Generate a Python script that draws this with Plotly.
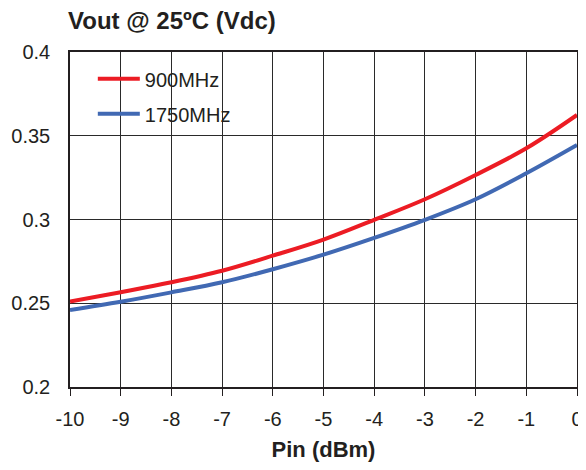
import plotly.graph_objects as go

pin_dbm = [-10, -9, -8, -7, -6, -5, -4, -3, -2, -1, 0]
vout_900 = [0.251, 0.2566, 0.2625, 0.2694, 0.2784, 0.2880, 0.2998, 0.3121, 0.3266, 0.3425, 0.3624]
vout_1750 = [0.246, 0.2509, 0.2565, 0.2625, 0.2703, 0.2790, 0.2890, 0.2998, 0.3121, 0.3276, 0.3445]
series_names = ["900MHz", "1750MHz"]
x_ticks = list(range(-10, 1))
x_tick_labels = [str(v) for v in x_ticks]
y_ticks = [0.2, 0.25, 0.3, 0.35, 0.4]
y_tick_labels = ["0.2", "0.25", "0.3", "0.35", "0.4"]

FONT = "Liberation Sans, Arial, sans-serif"
W, H = 578, 462  # page body has an 8px margin
fig = go.Figure()
fig.add_trace(go.Scatter(x=pin_dbm, y=vout_900, name=series_names[0], mode="lines",
                         line=dict(color="#ec1c24", width=4, shape="spline"),
                         legendgroup="a"))
fig.add_trace(go.Scatter(x=pin_dbm, y=vout_1750, name=series_names[1], mode="lines",
                         line=dict(color="#4169b3", width=4, shape="spline"),
                         legendgroup="b"))

fig.update_layout(
    width=W, height=H,
    margin=dict(l=62, r=9, t=44, b=83, autoexpand=False),
    paper_bgcolor="white", plot_bgcolor="white",
    font=dict(family=FONT, color="#231f20", size=20),
    title=dict(text="<b>Vout @ 25ºC (Vdc)</b>", x=60/W, xanchor="left",
               y=1 - 13/H, yanchor="middle", font=dict(size=24, color="#231f20")),
    showlegend=True,
    legend=dict(x=0.045, y=0.978, xanchor="left", yanchor="top",
                bgcolor="rgba(0,0,0,0)", borderwidth=0, itemwidth=42,
                font=dict(size=20, color="#231f20"), tracegroupgap=6),
)
fig.update_xaxes(range=[-10, 0], tickvals=x_ticks, ticktext=x_tick_labels,
                 ticks="outside", ticklen=7, automargin=False,
                 tickcolor="#231f20", tickwidth=1,
                 showgrid=True, gridcolor="#2a2a2a", gridwidth=1,
                 showline=True, linecolor="#231f20", linewidth=1.5, mirror=True,
                 zeroline=False, tickfont=dict(size=20),
                 ticklabelstandoff=6,
                 title=dict(text="<b>Pin (dBm)</b>", font=dict(size=22), standoff=13))
fig.update_yaxes(range=[0.2, 0.4], tickvals=y_ticks, ticktext=y_tick_labels,
                 ticks="", automargin=False, showgrid=True, gridcolor="#2a2a2a", gridwidth=1,
                 showline=True, linecolor="#231f20", linewidth=1.5, mirror=True,
                 zeroline=False, tickfont=dict(size=20), ticklabelstandoff=14)

fig.write_html("out.html")
